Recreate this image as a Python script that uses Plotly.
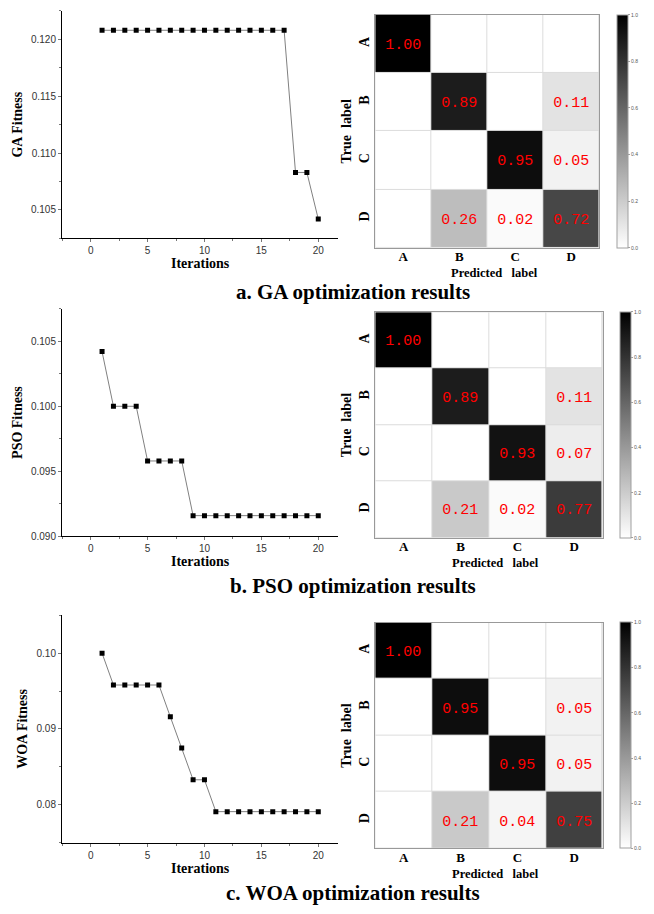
import plotly.graph_objects as go

W, H = 654, 914

# ---- fitness curves (best fitness per iteration) ----
iterations = [1, 2, 3, 4, 5, 6, 7, 8, 9, 10, 11, 12, 13, 14, 15, 16, 17, 18, 19, 20]
ga_fitness = [0.1208, 0.1208, 0.1208, 0.1208, 0.1208, 0.1208, 0.1208, 0.1208, 0.1208, 0.1208,
              0.1208, 0.1208, 0.1208, 0.1208, 0.1208, 0.1208, 0.1208, 0.1083, 0.1083, 0.1042]
pso_fitness = [0.1042, 0.1000, 0.1000, 0.1000, 0.0958, 0.0958, 0.0958, 0.0958, 0.0916, 0.0916,
               0.0916, 0.0916, 0.0916, 0.0916, 0.0916, 0.0916, 0.0916, 0.0916, 0.0916, 0.0916]
woa_fitness = [0.1000, 0.0958, 0.0958, 0.0958, 0.0958, 0.0958, 0.0916, 0.0875, 0.0833, 0.0833,
               0.0791, 0.0791, 0.0791, 0.0791, 0.0791, 0.0791, 0.0791, 0.0791, 0.0791, 0.0791]

# ---- normalised confusion matrices (rows: true, cols: predicted) ----
class_labels = ["A", "B", "C", "D"]
ga_cm = [[1.00, 0.00, 0.00, 0.00],
         [0.00, 0.89, 0.00, 0.11],
         [0.00, 0.00, 0.95, 0.05],
         [0.00, 0.26, 0.02, 0.72]]
pso_cm = [[1.00, 0.00, 0.00, 0.00],
          [0.00, 0.89, 0.00, 0.11],
          [0.00, 0.00, 0.93, 0.07],
          [0.00, 0.21, 0.02, 0.77]]
woa_cm = [[1.00, 0.00, 0.00, 0.00],
          [0.00, 0.95, 0.00, 0.05],
          [0.00, 0.00, 0.95, 0.05],
          [0.00, 0.21, 0.04, 0.75]]

captions = ["a. GA optimization results", "b. PSO optimization results", "c. WOA optimization results"]
fitness_titles = ["GA Fitness", "PSO Fitness", "WOA Fitness"]

SERIF = "Liberation Serif"
SANS = "Liberation Sans"


def px_x(px):
    return px / W


def px_y(py):
    return 1 - py / H


# pixel boxes for each row of panels
rows = [
    dict(line_y=(11, 240), yr=[0.1025, 0.1225], ydt=0.005, ymin=0.0025, yfmt=".3f",
         hm_x=(375.3, 599.3), hm_y=(15, 249.3), cb_x=616.7, cap_y=294,
         fit=ga_fitness, cm=ga_cm),
    dict(line_y=(310.7, 540), yr=[0.090, 0.1075], ydt=0.005, ymin=0.0025, yfmt=".3f",
         hm_x=(375.3, 602.7), hm_y=(314.3, 541.3), cb_x=620, cap_y=590,
         fit=pso_fitness, cm=pso_cm),
    dict(line_y=(619.3, 848.3), yr=[0.075, 0.105], ydt=0.01, ymin=0.005, yfmt=".2f",
         hm_x=(375.3, 602.7), hm_y=(626.7, 854), cb_x=620, cap_y=899,
         fit=woa_fitness, cm=woa_cm),
]

fig = go.Figure()
layout = dict(
    width=W, height=H, margin=dict(l=0, r=0, t=0, b=0),
    paper_bgcolor="white", plot_bgcolor="white", showlegend=False,
    shapes=[], annotations=[],
)

for i, r in enumerate(rows):
    la = 2 * i + 1       # line chart axis index
    ha = 2 * i + 2       # heatmap axis index
    lx, ly = f"x{la}", f"y{la}"
    hx, hy = f"x{ha}", f"y{ha}"

    # fitness curve
    fig.add_trace(go.Scatter(
        x=iterations, y=r["fit"], mode="lines+markers",
        line=dict(color="#808080", width=1),
        marker=dict(symbol="square", size=5, color="black"),
        xaxis=lx, yaxis=ly, hoverinfo="skip",
    ))

    tick_font = dict(family=SANS, size=10, color="#333333")
    layout[f"xaxis{la}"] = dict(
        domain=[px_x(62), px_x(338.3)], anchor=ly, range=[-2.52, 21.76],
        tick0=0, dtick=5, ticks="outside", ticklen=3, tickcolor="#777777",
        minor=dict(dtick=2.5, ticks="outside", ticklen=2, tickcolor="#777777"),
        showline=True, linecolor="black", linewidth=1,
        showgrid=False, zeroline=False, tickfont=tick_font,
        title=dict(text="<b>Iterations</b>", font=dict(family=SERIF, size=14, color="black"), standoff=1),
    )
    layout[f"yaxis{la}"] = dict(
        domain=[px_y(r["line_y"][1]), px_y(r["line_y"][0])], anchor=lx, range=r["yr"],
        dtick=r["ydt"], tick0=0, tickformat=r["yfmt"], ticks="outside", ticklen=3, tickcolor="#777777",
        minor=dict(dtick=r["ymin"], ticks="outside", ticklen=2, tickcolor="#777777"),
        showline=True, linecolor="black", linewidth=1,
        showgrid=False, zeroline=False, tickfont=tick_font,
        title=dict(text=f"<b>{fitness_titles[i]}</b>", font=dict(family=SERIF, size=14, color="black"), standoff=5),
    )

    # confusion matrix
    cm = r["cm"]
    cell_text = [[(f"{v:.2f}" if v > 0 else "") for v in row] for row in cm]
    cb_len = (r["hm_y"][1] - r["hm_y"][0]) / H
    cb_mid = px_y((r["hm_y"][0] + r["hm_y"][1]) / 2)
    fig.add_trace(go.Heatmap(
        z=cm, x=class_labels, y=class_labels, text=cell_text,
        texttemplate="%{text}", textfont=dict(family="Liberation Mono", size=15, color="red"),
        colorscale=[[0, "#ffffff"], [1, "#000000"]], zmin=0, zmax=1,
        xgap=1, ygap=1, hoverinfo="skip",
        xaxis=hx, yaxis=hy,
        colorbar=dict(
            x=px_x(r["cb_x"]), xanchor="left", xpad=0, ypad=0,
            y=cb_mid, yanchor="middle", len=cb_len, lenmode="fraction",
            thickness=11, outlinecolor="#a0a0a0", outlinewidth=1,
            tick0=0, dtick=0.2, tickformat=".1f", ticks="outside", ticklen=2,
            tickcolor="#a0a0a0", tickfont=dict(family=SANS, size=5, color="#555555"),
        ),
    ))
    layout[f"xaxis{ha}"] = dict(
        domain=[px_x(r["hm_x"][0]), px_x(r["hm_x"][1])], anchor=hy,
        showline=True, linecolor="#999999", linewidth=1, mirror=True,
        ticks="", ticklen=0, ticklabelstandoff=-3, showgrid=False, zeroline=False,
        tickfont=dict(family=SERIF, size=13, color="black"),
        tickprefix="<b>", ticksuffix="</b>",
    )
    layout[f"yaxis{ha}"] = dict(
        domain=[px_y(r["hm_y"][1]), px_y(r["hm_y"][0])], anchor=hx,
        autorange="reversed", tickangle=-90,
        showline=True, linecolor="#999999", linewidth=1, mirror=True,
        ticks="", showgrid=False, zeroline=False,
        tickfont=dict(family=SERIF, size=14, color="black"),
        tickprefix="<b>", ticksuffix="</b>",
        title=dict(text="<b>True\u00a0\u00a0label</b>", font=dict(family=SERIF, size=14, color="black"), standoff=1),
    )
    # x title of the matrix, set just below the class letters
    layout["annotations"].append(dict(
        text="<b>Predicted\u00a0\u00a0\u00a0label</b>", xref=f"{hx} domain", yref="paper",
        x=0.53, y=px_y(r["hm_y"][1] + 25.5), xanchor="center", yanchor="middle",
        showarrow=False, font=dict(family=SERIF, size=12.5, color="black"), borderpad=0,
    ))
    # light grid between cells shows through the heatmap gaps
    layout["shapes"].append(dict(
        type="rect", xref=f"{hx} domain", yref=f"{hy} domain",
        x0=0, x1=1, y0=0, y1=1, fillcolor="#dcdcdc", line=dict(width=0), layer="below",
    ))

    layout["annotations"].append(dict(
        text=f"<b>{captions[i]}</b>", xref="paper", yref="paper",
        x=px_x(353), y=px_y(r["cap_y"]), xanchor="center", yanchor="middle",
        showarrow=False, font=dict(family=SERIF, size=21, color="black"), borderpad=0,
    ))

fig.update_layout(**layout)
fig.write_html("out.html")
